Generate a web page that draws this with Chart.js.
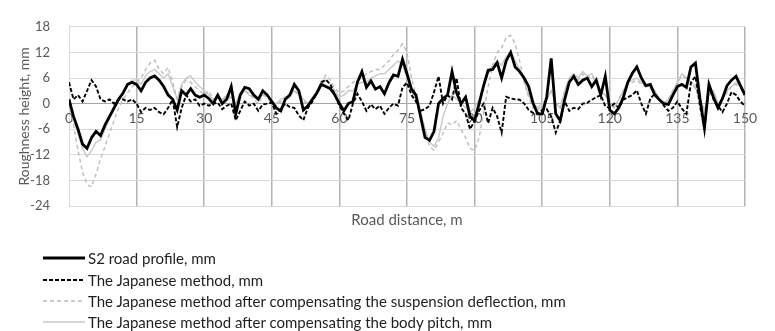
<!DOCTYPE html>
<html>
<head>
<meta charset="utf-8">
<script src="https://cdn.jsdelivr.net/npm/chart.js@4.4.1/dist/chart.umd.min.js"></script>
<style>
  html, body { margin: 0; padding: 0; background: #fff; }
  #wrap { position: relative; width: 775px; height: 331px; overflow: hidden; }
  #chartBox { position: absolute; left: 0; top: 0; width: 775px; height: 331px; }
  .leg { position: absolute; left: 43px; height: 20px; display: flex; align-items: center; font-family: Lato, "Liberation Sans", sans-serif; font-size: 15px; color: #1f1f1f; white-space: nowrap; }
  .leg svg { margin-right: 3px; }
</style>
</head>
<body>
<div id="wrap">
  <div id="chartBox"><canvas id="c"></canvas></div>
  <div id="legend"></div>
</div>
<script>
const distance = [0,1,2,3,4,5,6,7,8,9,10,11,12,13,14,15,16,17,18,19,20,21,22,23,24,25,26,27,28,29,30,31,32,33,34,35,36,37,38,39,40,41,42,43,44,45,46,47,48,49,50,51,52,53,54,55,56,57,58,59,60,61,62,63,64,65,66,67,68,69,70,71,72,73,74,75,76,77,78,79,80,81,82,83,84,85,86,87,88,89,90,91,92,93,94,95,96,97,98,99,100,101,102,103,104,105,106,107,108,109,110,111,112,113,114,115,116,117,118,119,120,121,122,123,124,125,126,127,128,129,130,131,132,133,134,135,136,137,138,139,140,141,142,143,144,145,146,147,148,149,150];

const s2Profile = [1,-3,-6,-9.5,-10.5,-8,-6.5,-7.5,-5,-3,
-1,1,2.5,4.5,5,4.5,3,5,6,6.5,
5.5,4,2,1,-1.5,3,2,3.5,2,1.5,
2,1.2,0,2,0,1,4,-2.4,2,3.8,
3.5,2,1,3,2,0.5,-1,-1.7,1,2,
4.5,3,-1.5,-0.5,1,2.5,4.5,4,3.5,2,
0,-1.7,0,0.5,5,7.5,3.8,5.3,3.4,4,
2.3,4.9,6.7,6.4,10.4,7,3.4,2,-3,-7.9,
-8.6,-6.5,0,1.2,2,7.5,2.5,0,1.5,-3,
-4,0,4.2,7.8,8,9.6,6,10,12,8.6,
7.5,6,4,0,-2.4,-2.4,1.5,10.6,-2.4,-4,
1,5,6.4,4.5,5.5,6,4,5.5,2,6.4,
-1.5,-2.4,-1,1.5,5,7.1,8.6,6,4.2,4.5,
2,0.9,0,-0.2,2,4,4.5,3.8,8.6,9.5,
1.2,-5.7,4.5,1.5,-1,1.2,4.2,5.5,6.4,4.2,
2];

const japaneseMethod = [5,1,2,0.5,3,5.5,4,1,0.5,1,
0,1,1,0.5,1,0,-2,-1,-1.5,-1,
-2,-2.5,-1,1,-5.5,-1,2,0.5,1,-0.5,
0,-0.5,0,0.2,-1.3,-0.5,0,-3.9,-1.7,0.5,
-0.5,0,-1.7,-0.2,0,0.2,-2.4,-1.3,0,-0.8,
-1,-2.8,-3.9,-1,0.5,2.5,5,5.6,4.5,2,
-0.5,-2.4,-3.9,0,2.3,0.5,-1.7,-0.2,-1.3,-0.5,
-2.4,-1,0,-0.5,3.8,4.9,2,0.5,-1.7,-1.3,
-0.5,2.7,6.4,0,2,1,6,-1,-2.4,-6,
-4,-1.7,0,-4.6,-1,-3,-6.8,1.6,1.2,1,
0.9,0,-1.5,-2.2,-2.4,-1.5,-1.3,-3,-6.8,-4,
0.5,-1.7,-1,-1.3,0,0.2,0.9,1.5,2,-0.6,
-1,0,-1,0.9,1.5,2,3.1,0,-2.4,1.2,
2.3,1,-0.5,-1.7,-1,0.5,-1.2,-2.4,4.9,6.4,
-0.5,-6,4.2,1,-0.5,-2,0,2.7,2,0.5,
-0.6];

const suspensionCompensated = [0,-5,-11,-16,-19,-19.5,-16.5,-13,-10,-7,
-4,-1,1,2.5,4,5,6,8,9.5,10.2,
8,7,8.5,5,1,4,5.5,5,4,3,
2,3,1,1.5,0.5,2,1,-1,2,3,
2.5,1,0,2,1.5,0,-0.5,0.5,1.5,2,
3,2,0.5,0,1,3,5,6.7,5.5,3.5,
2.5,3,4,5,5.5,6,7,7.5,8,8,
9,10,11.5,12.5,14,12,6,2,-2,-6,
-10,-11,-9,-7,-4.5,-5,-4,-6,-8,-10.5,
-11,-8,-2,4,9,12,13,15.5,16,14,
10,5,1.5,-1,-1.5,-0.5,1,3,0,-1,
3,5.5,6.5,5.5,7,6,6.5,5,3,2,
0,-1,1,3,4.5,5,5.5,4.5,4,3.5,
2.5,1,0,1,3,5,6.5,6,5,3.5,
1,-1.5,2,2.5,0,1,2.5,4,4.5,3.5,
2];

const bodyPitchCompensated = [1,-3.5,-7,-10.5,-12.5,-11,-9,-8.5,-6,-3.5,
-1.5,0.5,2.5,4.5,5.5,5.5,4.5,6.5,7.5,8,
7,6,7,4,1,4.5,6,6.5,5,4,
3,2,1,1.5,1,2,1.5,0,2.5,3,
2,1.5,1,2,2,0.5,0,1,1.5,2,
3,2.5,1,0,1,3,4.5,5.5,4.5,3,
1.5,2,3,3,4.5,5,5,6,6.5,7,
7,8,9,10,9,6,3,1,-2,-6,
-9,-10,-8,-3,0,2,1,0,-1,-2,
-1,1,4,7,9,10,9,11,12,10,
8,5,2,0,-1,0,1,3,0,-1,
3,6,7,6,7.5,6.5,7,5,3,2,
0,-1,1,3,5,5.5,6,5,4,4,
3,1,0,1,3,5,7,6,5,4,
1,-2,2,3,0,1,3,4,5,4,
2];

const seriesNames = [
  "S2 road profile, mm",
  "The Japanese method, mm",
  "The Japanese method after compensating the suspension deflection, mm",
  "The Japanese method after compensating the body pitch, mm"
];
const xTitle = "Road distance, m";
const yTitle = "Roughness height, mm";

const FONT = 'Lato, "Liberation Sans", sans-serif';
const toXY = vals => distance.map((d, i) => ({x: d, y: vals[i]}));

const styles = [
  {color: '#000000', width: 2.8, dash: []},
  {color: '#000000', width: 1.9, dash: [4, 2]},
  {color: '#bdbdbd', width: 1.4, dash: [4, 3]},
  {color: '#c9c9c9', width: 1.4, dash: []}
];
const seriesData = [s2Profile, japaneseMethod, suspensionCompensated, bodyPitchCompensated];

const datasets = seriesData.map((vals, i) => ({
  label: seriesNames[i],
  data: toXY(vals),
  borderColor: styles[i].color,
  borderWidth: styles[i].width,
  borderDash: styles[i].dash,
  pointRadius: 0,
  tension: 0,
  fill: false
}));

new Chart(document.getElementById('c'), {
  type: 'line',
  data: {datasets},
  options: {
    responsive: true,
    maintainAspectRatio: false,
    animation: false,
    layout: {padding: {top: 15, right: 30, bottom: 99, left: 0}},
    plugins: {
      legend: {display: false},
      tooltip: {enabled: false},
      title: {
        display: true, position: 'bottom', fullSize: false,
        text: xTitle, color: '#595959',
        font: {family: FONT, size: 15, weight: 'normal'},
        padding: {top: 5, bottom: 3}
      }
    },
    scales: {
      x: {
        type: 'linear', min: 0, max: 150,
        position: {y: 0},
        ticks: {stepSize: 15, color: '#595959', font: {family: FONT, size: 14}, padding: 6, maxRotation: 0},
        grid: {
          drawTicks: false,
          color: ctx => ctx.index === 0 ? '#d9d9d9' : '#b3b3b3',
          lineWidth: ctx => ctx.index === 0 ? 1 : 1.5
        },
        border: {display: true, color: '#a6a6a6', width: 1}
      },
      y: {
        min: -24, max: 18,
        ticks: {stepSize: 6, color: '#595959', font: {family: FONT, size: 13}, padding: 19},
        grid: {drawTicks: false, color: '#d9d9d9', lineWidth: 1},
        border: {display: false},
        title: {display: true, text: yTitle, color: '#595959', font: {family: FONT, size: 14}, padding: {top: 16, bottom: 0}},
        afterFit: s => { s.width = 69; }
      }
    }
  }
});

// legend (HTML, styled from the datasets)
const legend = document.getElementById('legend');
const rowCenters = [258, 280, 301, 322];
seriesNames.forEach((name, i) => {
  const st = styles[i];
  const row = document.createElement('div');
  row.className = 'leg';
  row.style.top = (rowCenters[i] - 10) + 'px';
  const svgNS = 'http://www.w3.org/2000/svg';
  const svg = document.createElementNS(svgNS, 'svg');
  svg.setAttribute('width', '42'); svg.setAttribute('height', '8');
  const ln = document.createElementNS(svgNS, 'line');
  ln.setAttribute('x1', '0'); ln.setAttribute('y1', '4');
  ln.setAttribute('x2', '42'); ln.setAttribute('y2', '4');
  ln.setAttribute('stroke', st.color);
  ln.setAttribute('stroke-width', String(st.width));
  if (st.dash.length) ln.setAttribute('stroke-dasharray', st.dash.join(' '));
  svg.appendChild(ln);
  const span = document.createElement('span');
  span.textContent = name;
  row.appendChild(svg); row.appendChild(span);
  legend.appendChild(row);
});
</script>
</body>
</html>
